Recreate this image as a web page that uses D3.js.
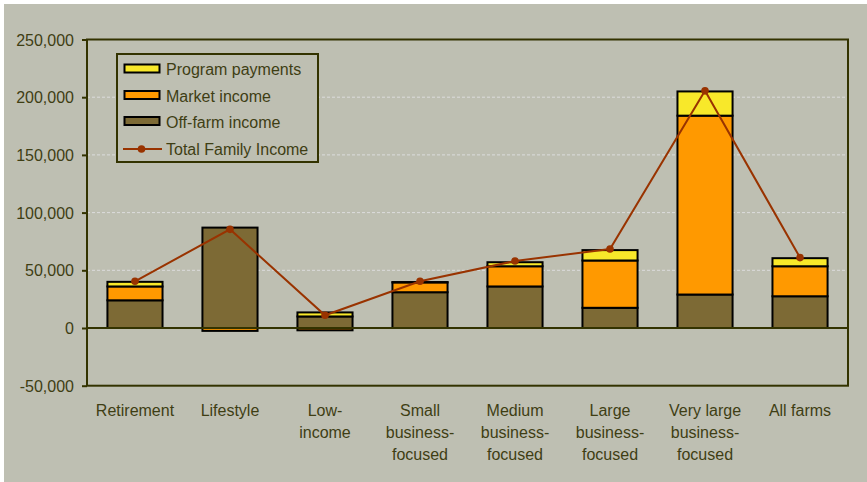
<!DOCTYPE html>
<html><head><meta charset="utf-8">
<script src="https://cdn.jsdelivr.net/npm/d3@7"></script>
<style>
html,body{margin:0;padding:0;background:#fff;}
svg{display:block;}
text{font-family:"Liberation Sans",Arial,sans-serif;}
</style></head>
<body>
<svg id="c" width="867" height="482"></svg>
<script>
const categories = ["Retirement","Lifestyle","Low-income","Small business-focused","Medium business-focused","Large business-focused","Very large business-focused","All farms"];
const categoryLines = [["Retirement"],["Lifestyle"],["Low-","income"],["Small","business-","focused"],["Medium","business-","focused"],["Large","business-","focused"],["Very large","business-","focused"],["All farms"]];
const offFarm = [24000, 87000, 10000, 31000, 36000, 17500, 29000, 27500];
const market = [12000, -2500, -2000, 8500, 17500, 41000, 155000, 26000];
const program = [4000, 0, 3500, 300, 3500, 9000, 21000, 7000];
const totalIncome = [40500, 85500, 11000, 40500, 58000, 68500, 205500, 61000];
const yTicks = [-50000, 0, 50000, 100000, 150000, 200000, 250000];
const seriesNames = ["Program payments","Market income","Off-farm income","Total Family Income"];

const svg = d3.select("#c");
const bg = "#bebfb2", axisCol = "#333300", textCol = "#3e3e14";
svg.append("rect").attr("x",4).attr("y",4).attr("width",863).attr("height",478).attr("fill",bg);

const L = 87, R = 848, T = 39.5, B = 385.7;
const x = d3.scaleBand().domain(categories).range([L,R]).paddingInner(0.42).paddingOuter(0.215);
const y = d3.scaleLinear().domain([-50000,250000]).range([B,T]);

// gridlines
svg.append("g").selectAll("line").data(yTicks.filter(v=>v>0 && v<250000)).join("line")
  .attr("x1",L).attr("x2",R).attr("y1",d=>y(d)).attr("y2",d=>y(d))
  .attr("stroke","#dcdcdc").attr("stroke-width",1).attr("stroke-dasharray","3,2");

// y axis
const fmt = d3.format(",");
const yAxis = d3.axisLeft(y).tickValues(yTicks).tickSize(5).tickPadding(8).tickFormat(d => fmt(d).replace("\u2212","-"));
const ya = svg.append("g").attr("transform",`translate(${L},0)`).call(yAxis);
ya.select(".domain").remove();
ya.selectAll(".tick line").attr("stroke",axisCol).attr("stroke-width",2);
ya.selectAll(".tick text").attr("font-size",16).attr("fill",textCol).attr("font-family","Liberation Sans, Arial, sans-serif").attr("dy","0.35em");

// stacked bars
const rows = categories.map((c,i)=>({cat:c, off:offFarm[i], market:market[i], program:program[i]}));
const stack = d3.stack().keys(["off","market","program"]).offset(d3.stackOffsetDiverging);
const stacked = stack(rows);
const colors = {off:"#7d6a35", market:"#ff9900", program:"#f8e82a"};
stacked.forEach(s=>{
  svg.append("g").selectAll("rect").data(s.filter(d=>Math.abs(d[1]-d[0])>0)).join("rect")
    .attr("x",d=>x(d.data.cat)).attr("width",x.bandwidth())
    .attr("y",d=>y(Math.max(d[0],d[1]))).attr("height",d=>Math.abs(y(d[0])-y(d[1])))
    .attr("fill",colors[s.key]).attr("stroke","#000").attr("stroke-width",2);
});

// frame
svg.append("rect").attr("x",L).attr("y",T).attr("width",R-L).attr("height",B-T)
  .attr("fill","none").attr("stroke",axisCol).attr("stroke-width",2);
// zero line
svg.append("line").attr("x1",L).attr("x2",R).attr("y1",y(0)).attr("y2",y(0)).attr("stroke",axisCol).attr("stroke-width",2);

// total line
const cx = c => x(c)+x.bandwidth()/2;
const line = d3.line().x((d,i)=>cx(categories[i])).y(d=>y(d));
svg.append("path").datum(totalIncome).attr("d",line).attr("fill","none").attr("stroke","#993300").attr("stroke-width",2);
svg.append("g").selectAll("circle").data(totalIncome).join("circle")
  .attr("cx",(d,i)=>cx(categories[i])).attr("cy",d=>y(d)).attr("r",3.8).attr("fill","#993300");

// x labels
const xl = svg.append("g");
categories.forEach((c,i)=>{
  const t = xl.append("text").attr("x",cx(c)).attr("text-anchor","middle").attr("font-size",16).attr("fill",textCol);
  categoryLines[i].forEach((ln,j)=>t.append("tspan").attr("x",cx(c)).attr("y",415.5+j*22).text(ln));
});

// legend
const lg = svg.append("g");
lg.append("rect").attr("x",117).attr("y",54).attr("width",201).attr("height",108).attr("fill",bg).attr("stroke",axisCol).attr("stroke-width",2);
const legColors = [colors.program, colors.market, colors.off];
const rowY = [69, 95.5, 121.5, 149];
seriesNames.forEach((n,i)=>{
  if(i<3){
    lg.append("rect").attr("x",124.5).attr("y",rowY[i]-4.5).attr("width",35).attr("height",8).attr("fill",legColors[i]).attr("stroke","#000").attr("stroke-width",2);
  } else {
    lg.append("line").attr("x1",123).attr("x2",162).attr("y1",rowY[i]).attr("y2",rowY[i]).attr("stroke","#993300").attr("stroke-width",2);
    lg.append("circle").attr("cx",141.5).attr("cy",rowY[i]).attr("r",3.8).attr("fill","#993300");
  }
  lg.append("text").attr("x",166).attr("y",rowY[i]+6).attr("font-size",16).attr("fill",textCol).text(n);
});
</script>
</body></html>
